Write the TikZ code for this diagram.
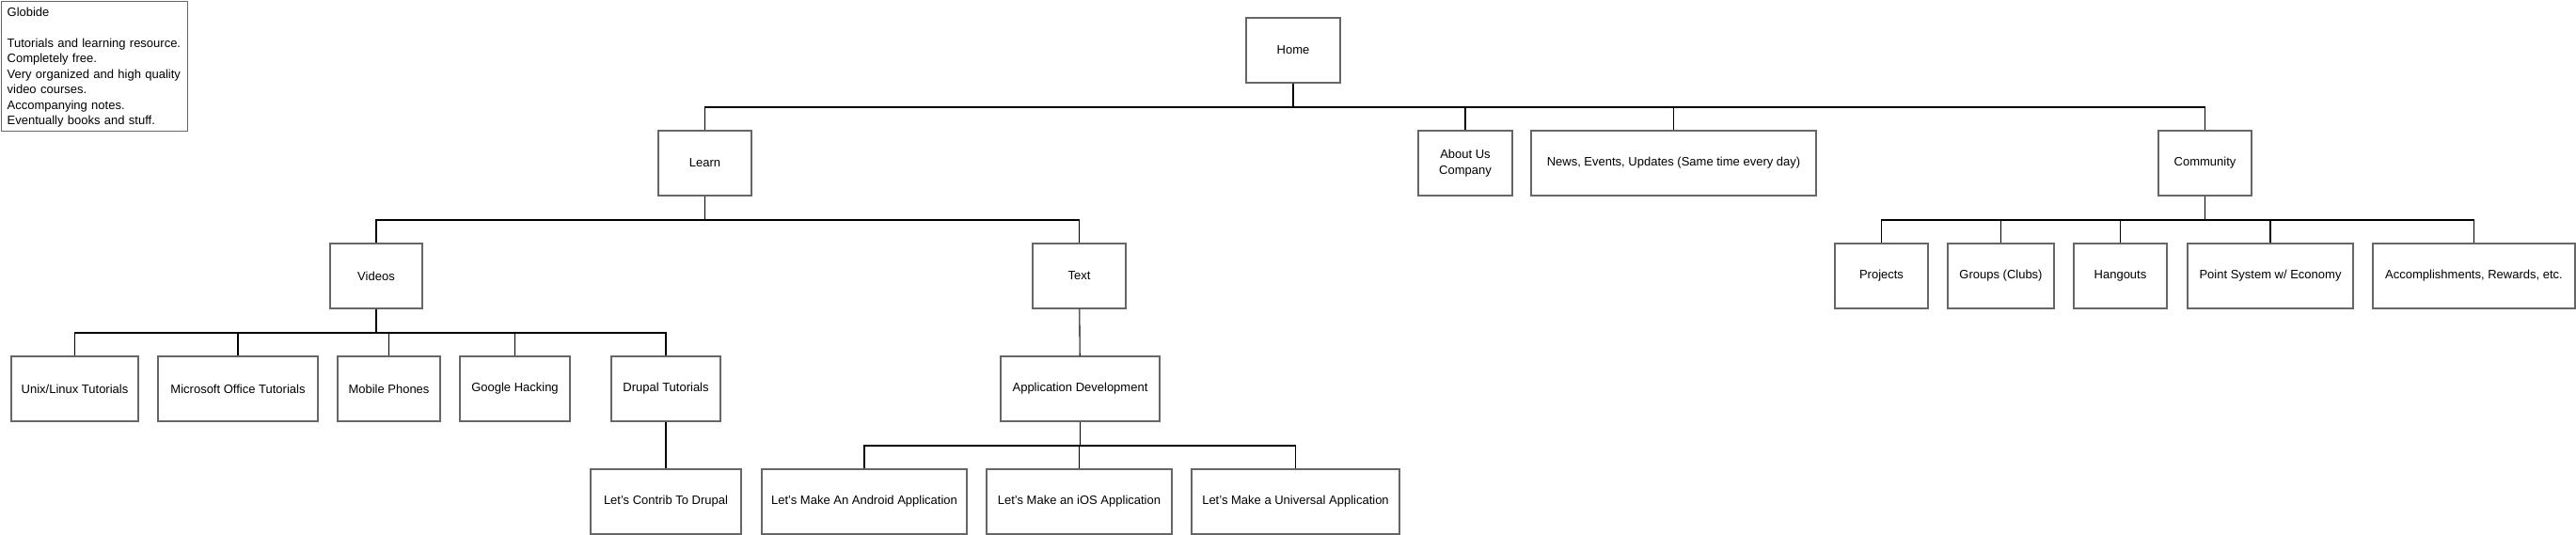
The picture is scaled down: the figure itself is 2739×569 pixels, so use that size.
\documentclass[tikz,border=0pt]{standalone}
\usepackage{fontspec}
\setmainfont{Liberation Sans}
\usepackage{tikz}

\tikzset{
    page/.style={draw=black!60, line width=1.1pt, rectangle, minimum height=69pt,
        inner sep=0pt, align=center, font=\fontsize{13}{16.5}\selectfont},
    link/.style={draw=black, line width=1.1pt}
}

\begin{document}
\begin{tikzpicture}[x=1pt, y=-1pt]
            \useasboundingbox (0,0) rectangle (2739,569);
            % Define note
            \node[draw=black!60, line width=1.1pt, anchor=north west, minimum width=198pt,
                minimum height=138pt, text width=185pt, inner xsep=6.5pt, align=left,
                font=\fontsize{13}{16.5}\selectfont] (note) at (0.6,0.6)
                {\rule{0pt}{12pt}Globide\\[16.5pt]Tutorials and learning resource.\\Completely free.\\
                Very organized and high quality\\video courses.\\Accompanying notes.\\
                Eventually books and stuff.};
            % Define pages
            \node[page, minimum width=100pt] (home) at (1375, 53.5) {Home};
            \node[page, minimum width=99pt] (learn) at (749.5, 173.5) {Learn};
            \node[page, minimum width=100pt] (about) at (1558, 173.5) {About Us\\Company};
            \node[page, minimum width=303pt] (news) at (1779.5, 173.5) {News, Events, Updates (Same time every day)};
            \node[page, minimum width=99pt] (community) at (2344.5, 173.5) {Community};
            \node[page, minimum width=98pt] (videos) at (400, 293.5) {Videos};
            \node[page, minimum width=99pt] (text) at (1147.5, 293.5) {Text};
            \node[page, minimum width=99pt] (projects) at (2000.5, 293.5) {Projects};
            \node[page, minimum width=113pt] (groups) at (2127.5, 293.5) {Groups (Clubs)};
            \node[page, minimum width=99pt] (hangouts) at (2254.5, 293.5) {Hangouts};
            \node[page, minimum width=176pt] (points) at (2414, 293.5) {Point System w/ Economy};
            \node[page, minimum width=215pt] (rewards) at (2630.5, 293.5) {Accomplishments, Rewards, etc.};
            \node[page, minimum width=135pt] (unix) at (79.5, 413.5) {Unix/Linux Tutorials};
            \node[page, minimum width=170pt] (office) at (253, 413.5) {Microsoft Office Tutorials};
            \node[page, minimum width=109pt] (mobile) at (413.5, 413.5) {Mobile Phones};
            \node[page, minimum width=117pt] (google) at (547.5, 413.5) {Google Hacking};
            \node[page, minimum width=116pt] (drupal) at (708, 413.5) {Drupal Tutorials};
            \node[page, minimum width=169pt] (appdev) at (1148.5, 413.5) {Application Development};
            \node[page, minimum width=160pt] (contrib) at (708, 533.5) {Let's Contrib To Drupal};
            \node[page, minimum width=218pt] (android) at (919, 533.5) {Let's Make An Android Application};
            \node[page, minimum width=197pt] (ios) at (1147.5, 533.5) {Let's Make an iOS Application};
            \node[page, minimum width=221pt] (universal) at (1377.5, 533.5) {Let's Make a Universal Application};
            % Define bus levels
            \coordinate (busA) at (0, 114);
            \coordinate (busB) at (0, 234);
            \coordinate (busC) at (0, 354);
            \coordinate (busD) at (0, 474);
            % Draw links: stem, bus, drops
            \draw[link] (home.south) -- (home.south |- busA);
            \draw[link] (learn.north) |- (community.north |- busA) -- (community.north);
            \foreach \child in {about, news}
                \draw[link] (\child.north) -- (\child.north |- busA);
            \draw[link] (learn.south) -- (learn.south |- busB);
            \draw[link] (videos.north) |- (text.north |- busB) -- (text.north);
            \draw[link] (community.south) -- (community.south |- busB);
            \draw[link] (projects.north) |- (rewards.north |- busB) -- (rewards.north);
            \foreach \child in {groups, hangouts, points}
                \draw[link] (\child.north) -- (\child.north |- busB);
            \draw[link] (videos.south) -- (videos.south |- busC);
            \draw[link] (unix.north) |- (drupal.north |- busC) -- (drupal.north);
            \foreach \child in {office, mobile, google}
                \draw[link] (\child.north) -- (\child.north |- busC);
            \draw[link] (appdev.south) -- (appdev.south |- busD);
            \draw[link] (android.north) |- (universal.north |- busD) -- (universal.north);
            \draw[link] (ios.north) -- (ios.north |- busD);
            \draw[link] (text) -- (appdev);
            \draw[link] (drupal) -- (contrib);
        \end{tikzpicture}
\end{document}
